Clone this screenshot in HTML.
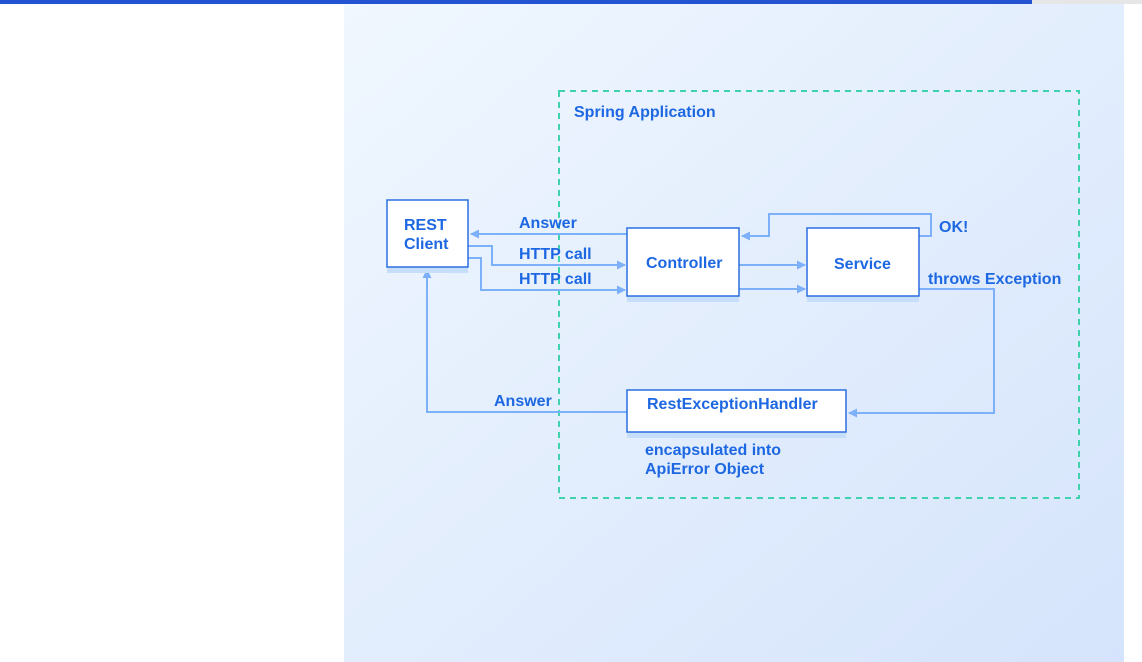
<!DOCTYPE html>
<html><head><style>
html,body{margin:0;padding:0;width:1142px;height:662px;overflow:hidden;background:#fff;}
</style></head><body>
<svg width="1142" height="662" xmlns="http://www.w3.org/2000/svg" style="position:absolute;left:0;top:0">
<defs>
<linearGradient id="g" x1="0" y1="0" x2="1" y2="1">
<stop offset="0" stop-color="#f0f7fe"/><stop offset="1" stop-color="#d5e4fc"/>
</linearGradient>
<marker id="a" markerWidth="9" markerHeight="9" refX="8" refY="4.5" orient="auto" markerUnits="userSpaceOnUse">
<path d="M0,0 L9,4.5 L0,9 z" fill="#7cb0f8"/></marker>
</defs>
<rect x="0" y="0" width="1032" height="4" fill="#2353d0"/>
<rect x="1032" y="0" width="110" height="4" fill="#e6e6e6"/>
<rect x="344" y="4" width="780" height="658" fill="url(#g)"/>
<rect x="559" y="91" width="520" height="407" fill="none" stroke="#3fd3ad" stroke-width="2" stroke-dasharray="6,5"/>
<g fill="none" stroke="#7cb0f8" stroke-width="2">
<path d="M627 234 L471 234" marker-end="url(#a)"/>
<path d="M468 246 L492 246 L492 265 L625 265" marker-end="url(#a)"/>
<path d="M468 258 L481 258 L481 290 L625 290" marker-end="url(#a)"/>
<path d="M739 265 L805 265" marker-end="url(#a)"/>
<path d="M739 289 L805 289" marker-end="url(#a)"/>
<path d="M919 236 L931 236 L931 214 L769 214 L769 236 L742 236" marker-end="url(#a)"/>
<path d="M919 289 L994 289 L994 413 L849 413" marker-end="url(#a)"/>
<path d="M627 412 L427 412 L427 270" marker-end="url(#a)"/>
</g>
<g fill="#c7defb">
<rect x="387" y="267" width="81" height="6"/>
<rect x="627" y="296" width="112" height="6"/>
<rect x="807" y="296" width="112" height="6"/>
<rect x="627" y="432" width="219" height="6"/>
</g>
<g fill="#fff" stroke="#2a6fe0" stroke-width="1.5">
<rect x="387" y="200" width="81" height="67"/>
<rect x="627" y="228" width="112" height="68"/>
<rect x="807" y="228" width="112" height="68"/>
<rect x="627" y="390" width="219" height="42"/>
</g>
<g font-family="Liberation Sans, sans-serif" font-size="16" fill="#1d68e2" font-weight="bold">
<text x="574" y="117">Spring Application</text>
<text x="404" y="230">REST</text>
<text x="404" y="249">Client</text>
<text x="519" y="228">Answer</text>
<text x="519" y="259">HTTP call</text>
<text x="519" y="284">HTTP call</text>
<text x="646" y="268">Controller</text>
<text x="834" y="269">Service</text>
<text x="939" y="232">OK!</text>
<text x="928" y="284">throws Exception</text>
<text x="647" y="409">RestExceptionHandler</text>
<text x="494" y="406">Answer</text>
<text x="645" y="455">encapsulated into</text>
<text x="645" y="474">ApiError Object</text>
</g>
</svg>
</body></html>
